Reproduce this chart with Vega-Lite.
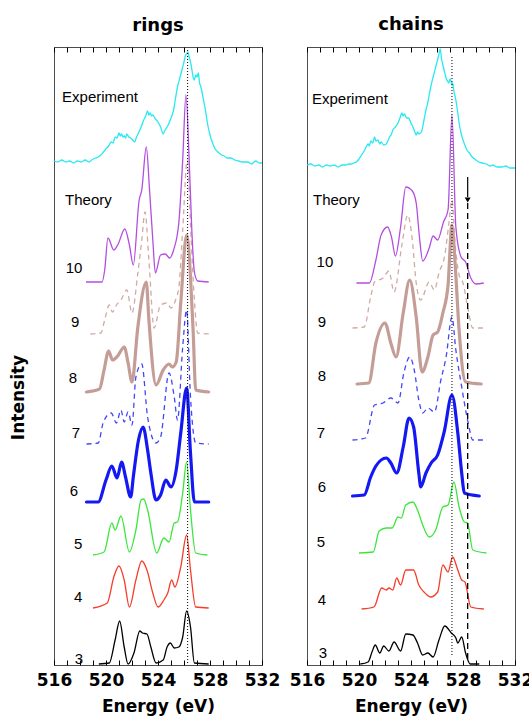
{
"$schema": "https://vega.github.io/schema/vega-lite/v6.json",
"padding": {"left": 8, "top": 15, "right": 5, "bottom": 2},
"spacing": 7,
"config": {
  "view": {"stroke": "#4d4d4d", "strokeWidth": 1},
  "font": "Liberation Sans",
  "title": {"font": "DejaVu Sans", "fontSize": 18, "fontWeight": "bold", "offset": 12, "color": "#000"},
  "axis": {"grid": false, "domain": false}
},
"datasets": {
"rings": [
{"s":"exp","e":516,"v":504},{"s":"exp","e":516.3,"v":503},{"s":"exp","e":516.6,"v":505},{"s":"exp","e":516.9,"v":503},{"s":"exp","e":517.2,"v":504},{"s":"exp","e":517.5,"v":502},{"s":"exp","e":517.8,"v":504},{"s":"exp","e":518.1,"v":503},{"s":"exp","e":518.4,"v":505},{"s":"exp","e":518.7,"v":503},{"s":"exp","e":518.9,"v":505},{"s":"exp","e":519.2,"v":507},{"s":"exp","e":519.4,"v":508},{"s":"exp","e":519.6,"v":510},{"s":"exp","e":519.8,"v":513},{"s":"exp","e":520.0,"v":516},{"s":"exp","e":520.2,"v":519},{"s":"exp","e":520.4,"v":523},{"s":"exp","e":520.55,"v":522},{"s":"exp","e":520.7,"v":528},{"s":"exp","e":520.85,"v":527},{"s":"exp","e":521.0,"v":532},{"s":"exp","e":521.1,"v":529},{"s":"exp","e":521.2,"v":531},{"s":"exp","e":521.3,"v":528},{"s":"exp","e":521.4,"v":529},{"s":"exp","e":521.5,"v":527},{"s":"exp","e":521.6,"v":531},{"s":"exp","e":521.75,"v":528},{"s":"exp","e":521.9,"v":527},{"s":"exp","e":522.05,"v":525},{"s":"exp","e":522.2,"v":523},{"s":"exp","e":522.35,"v":528},{"s":"exp","e":522.5,"v":532},{"s":"exp","e":522.7,"v":538},{"s":"exp","e":522.9,"v":545},{"s":"exp","e":523.05,"v":549},{"s":"exp","e":523.2,"v":554},{"s":"exp","e":523.3,"v":550},{"s":"exp","e":523.4,"v":552},{"s":"exp","e":523.5,"v":549},{"s":"exp","e":523.6,"v":550},{"s":"exp","e":523.8,"v":546},{"s":"exp","e":524.0,"v":543},{"s":"exp","e":524.2,"v":538},{"s":"exp","e":524.4,"v":531},{"s":"exp","e":524.5,"v":534},{"s":"exp","e":524.6,"v":536},{"s":"exp","e":524.7,"v":538},{"s":"exp","e":524.85,"v":542},{"s":"exp","e":525.0,"v":547},{"s":"exp","e":525.2,"v":555},{"s":"exp","e":525.35,"v":567},{"s":"exp","e":525.5,"v":578},{"s":"exp","e":525.7,"v":588},{"s":"exp","e":525.9,"v":598},{"s":"exp","e":526.0,"v":603},{"s":"exp","e":526.1,"v":609},{"s":"exp","e":526.2,"v":611},{"s":"exp","e":526.3,"v":613},{"s":"exp","e":526.4,"v":608},{"s":"exp","e":526.5,"v":603},{"s":"exp","e":526.6,"v":596},{"s":"exp","e":526.7,"v":588},{"s":"exp","e":526.8,"v":585},{"s":"exp","e":526.9,"v":590},{"s":"exp","e":527.0,"v":588},{"s":"exp","e":527.1,"v":592},{"s":"exp","e":527.2,"v":582},{"s":"exp","e":527.3,"v":578},{"s":"exp","e":527.4,"v":572},{"s":"exp","e":527.5,"v":565},{"s":"exp","e":527.65,"v":555},{"s":"exp","e":527.8,"v":542},{"s":"exp","e":528.0,"v":530},{"s":"exp","e":528.2,"v":522},{"s":"exp","e":528.4,"v":516},{"s":"exp","e":528.6,"v":513},{"s":"exp","e":528.7,"v":512},{"s":"exp","e":528.9,"v":510},{"s":"exp","e":529.1,"v":509},{"s":"exp","e":529.3,"v":507},{"s":"exp","e":529.6,"v":507},{"s":"exp","e":529.9,"v":505},{"s":"exp","e":530.2,"v":504},{"s":"exp","e":530.5,"v":503},{"s":"exp","e":530.9,"v":503},{"s":"exp","e":531.2,"v":501},{"s":"exp","e":531.5,"v":504},{"s":"exp","e":531.8,"v":502},{"s":"exp","e":532.0,"v":502},
{"s":"n10","e":518.46,"v":383},{"s":"n10","e":519.7,"v":383},{"s":"n10","e":519.9,"v":395},{"s":"n10","e":520.15,"v":427},{"s":"n10","e":520.6,"v":415},{"s":"n10","e":520.9,"v":420},{"s":"n10","e":521.45,"v":436},{"s":"n10","e":521.8,"v":420},{"s":"n10","e":522.1,"v":400},{"s":"n10","e":522.55,"v":465},{"s":"n10","e":522.75,"v":475},{"s":"n10","e":523.1,"v":518},{"s":"n10","e":523.35,"v":475},{"s":"n10","e":523.6,"v":425},{"s":"n10","e":523.8,"v":392},{"s":"n10","e":524.2,"v":410},{"s":"n10","e":524.55,"v":411},{"s":"n10","e":524.9,"v":407},{"s":"n10","e":525.2,"v":415},{"s":"n10","e":525.6,"v":442},{"s":"n10","e":525.9,"v":505},{"s":"n10","e":526.15,"v":570},{"s":"n10","e":526.4,"v":505},{"s":"n10","e":526.6,"v":435},{"s":"n10","e":526.8,"v":393},{"s":"n10","e":527.05,"v":384},{"s":"n10","e":527.9,"v":383},
{"s":"n9","e":518.8,"v":331},{"s":"n9","e":519.6,"v":332},{"s":"n9","e":519.9,"v":345},{"s":"n9","e":520.25,"v":360},{"s":"n9","e":520.5,"v":353},{"s":"n9","e":520.8,"v":360},{"s":"n9","e":521.15,"v":365},{"s":"n9","e":521.6,"v":375},{"s":"n9","e":522.0,"v":352},{"s":"n9","e":522.45,"v":392},{"s":"n9","e":522.75,"v":425},{"s":"n9","e":523.0,"v":453},{"s":"n9","e":523.3,"v":405},{"s":"n9","e":523.7,"v":337},{"s":"n9","e":524.2,"v":360},{"s":"n9","e":524.7,"v":362},{"s":"n9","e":525.0,"v":357},{"s":"n9","e":525.4,"v":367},{"s":"n9","e":525.6,"v":377},{"s":"n9","e":525.9,"v":435},{"s":"n9","e":526.25,"v":505},{"s":"n9","e":526.55,"v":425},{"s":"n9","e":526.8,"v":365},{"s":"n9","e":527.05,"v":332},{"s":"n9","e":528.1,"v":331},
{"s":"n8","e":518.5,"v":273},{"s":"n8","e":519.5,"v":276},{"s":"n8","e":519.85,"v":295},{"s":"n8","e":520.2,"v":314},{"s":"n8","e":520.5,"v":305},{"s":"n8","e":520.9,"v":309},{"s":"n8","e":521.4,"v":318},{"s":"n8","e":521.7,"v":302},{"s":"n8","e":522.0,"v":283},{"s":"n8","e":522.45,"v":338},{"s":"n8","e":523.1,"v":383},{"s":"n8","e":523.3,"v":345},{"s":"n8","e":523.85,"v":280},{"s":"n8","e":524.4,"v":295},{"s":"n8","e":524.85,"v":301},{"s":"n8","e":525.1,"v":298},{"s":"n8","e":525.4,"v":303},{"s":"n8","e":525.75,"v":362},{"s":"n8","e":526.2,"v":430},{"s":"n8","e":526.7,"v":335},{"s":"n8","e":526.9,"v":275},{"s":"n8","e":527.9,"v":273},
{"s":"n7","e":518.5,"v":221},{"s":"n7","e":519.4,"v":222},{"s":"n7","e":519.8,"v":243},{"s":"n7","e":520.4,"v":252},{"s":"n7","e":520.8,"v":242},{"s":"n7","e":521.15,"v":255},{"s":"n7","e":521.4,"v":243},{"s":"n7","e":521.7,"v":253},{"s":"n7","e":522.0,"v":240},{"s":"n7","e":522.3,"v":288},{"s":"n7","e":522.75,"v":301},{"s":"n7","e":523.2,"v":248},{"s":"n7","e":523.85,"v":222},{"s":"n7","e":524.2,"v":228},{"s":"n7","e":524.85,"v":292},{"s":"n7","e":525.25,"v":268},{"s":"n7","e":525.5,"v":245},{"s":"n7","e":525.9,"v":318},{"s":"n7","e":526.2,"v":355},{"s":"n7","e":526.5,"v":268},{"s":"n7","e":526.9,"v":222},{"s":"n7","e":527.9,"v":221},
{"s":"n6","e":518.5,"v":163},{"s":"n6","e":519.4,"v":163},{"s":"n6","e":520.0,"v":185},{"s":"n6","e":520.45,"v":199},{"s":"n6","e":520.85,"v":187},{"s":"n6","e":521.2,"v":203},{"s":"n6","e":521.5,"v":188},{"s":"n6","e":521.9,"v":168},{"s":"n6","e":522.1,"v":188},{"s":"n6","e":522.5,"v":225},{"s":"n6","e":522.85,"v":238},{"s":"n6","e":523.2,"v":215},{"s":"n6","e":523.45,"v":192},{"s":"n6","e":523.85,"v":165},{"s":"n6","e":524.2,"v":170},{"s":"n6","e":524.6,"v":185},{"s":"n6","e":525.0,"v":178},{"s":"n6","e":525.4,"v":195},{"s":"n6","e":525.75,"v":232},{"s":"n6","e":526.2,"v":277},{"s":"n6","e":526.5,"v":212},{"s":"n6","e":526.8,"v":163},{"s":"n6","e":527.9,"v":163},
{"s":"n5","e":519.0,"v":110},{"s":"n5","e":519.85,"v":113},{"s":"n5","e":520.45,"v":142},{"s":"n5","e":520.7,"v":135},{"s":"n5","e":521.15,"v":149},{"s":"n5","e":521.8,"v":113},{"s":"n5","e":522.3,"v":135},{"s":"n5","e":522.7,"v":165},{"s":"n5","e":522.9,"v":166},{"s":"n5","e":523.2,"v":155},{"s":"n5","e":523.9,"v":112},{"s":"n5","e":524.45,"v":127},{"s":"n5","e":524.85,"v":123},{"s":"n5","e":525.25,"v":142},{"s":"n5","e":525.5,"v":143},{"s":"n5","e":525.9,"v":172},{"s":"n5","e":526.2,"v":203},{"s":"n5","e":526.5,"v":155},{"s":"n5","e":526.9,"v":112},{"s":"n5","e":527.8,"v":110},
{"s":"n4","e":519.0,"v":57},{"s":"n4","e":520.1,"v":62},{"s":"n4","e":520.6,"v":88},{"s":"n4","e":521.0,"v":99},{"s":"n4","e":521.4,"v":85},{"s":"n4","e":521.8,"v":58},{"s":"n4","e":522.3,"v":85},{"s":"n4","e":522.75,"v":104},{"s":"n4","e":523.15,"v":95},{"s":"n4","e":523.6,"v":72},{"s":"n4","e":524.0,"v":58},{"s":"n4","e":524.45,"v":65},{"s":"n4","e":524.75,"v":72},{"s":"n4","e":525.05,"v":85},{"s":"n4","e":525.3,"v":78},{"s":"n4","e":525.75,"v":98},{"s":"n4","e":526.2,"v":130},{"s":"n4","e":526.5,"v":95},{"s":"n4","e":526.9,"v":58},{"s":"n4","e":527.9,"v":57},
{"s":"n3","e":519.45,"v":1},{"s":"n3","e":520.25,"v":2},{"s":"n3","e":520.7,"v":25},{"s":"n3","e":521.05,"v":44},{"s":"n3","e":521.4,"v":18},{"s":"n3","e":521.7,"v":1},{"s":"n3","e":522.15,"v":12},{"s":"n3","e":522.6,"v":34},{"s":"n3","e":522.8,"v":32},{"s":"n3","e":523.15,"v":31},{"s":"n3","e":523.45,"v":18},{"s":"n3","e":523.85,"v":2},{"s":"n3","e":524.4,"v":5},{"s":"n3","e":524.7,"v":18},{"s":"n3","e":524.95,"v":22},{"s":"n3","e":525.25,"v":17},{"s":"n3","e":525.6,"v":18},{"s":"n3","e":525.9,"v":28},{"s":"n3","e":526.2,"v":54},{"s":"n3","e":526.5,"v":38},{"s":"n3","e":526.8,"v":2},{"s":"n3","e":527.9,"v":1}
],
"chains": [
{"s":"exp","e":516.0,"v":500},{"s":"exp","e":516.3,"v":501},{"s":"exp","e":516.6,"v":499},{"s":"exp","e":516.9,"v":500},{"s":"exp","e":517.2,"v":498},{"s":"exp","e":517.5,"v":500},{"s":"exp","e":517.8,"v":499},{"s":"exp","e":518.1,"v":500},{"s":"exp","e":518.4,"v":498},{"s":"exp","e":518.7,"v":500},{"s":"exp","e":519.0,"v":500},{"s":"exp","e":519.2,"v":501},{"s":"exp","e":519.4,"v":501},{"s":"exp","e":519.6,"v":502},{"s":"exp","e":519.8,"v":503},{"s":"exp","e":520.0,"v":506},{"s":"exp","e":520.2,"v":510},{"s":"exp","e":520.4,"v":514},{"s":"exp","e":520.55,"v":518},{"s":"exp","e":520.7,"v":521},{"s":"exp","e":520.8,"v":519},{"s":"exp","e":520.9,"v":524},{"s":"exp","e":521.05,"v":522},{"s":"exp","e":521.2,"v":528},{"s":"exp","e":521.3,"v":524},{"s":"exp","e":521.45,"v":525},{"s":"exp","e":521.6,"v":521},{"s":"exp","e":521.7,"v":523},{"s":"exp","e":521.9,"v":520},{"s":"exp","e":522.1,"v":521},{"s":"exp","e":522.25,"v":525},{"s":"exp","e":522.35,"v":528},{"s":"exp","e":522.5,"v":531},{"s":"exp","e":522.6,"v":535},{"s":"exp","e":522.8,"v":538},{"s":"exp","e":523.0,"v":542},{"s":"exp","e":523.15,"v":547},{"s":"exp","e":523.3,"v":552},{"s":"exp","e":523.4,"v":549},{"s":"exp","e":523.5,"v":551},{"s":"exp","e":523.65,"v":547},{"s":"exp","e":523.8,"v":547},{"s":"exp","e":524.0,"v":542},{"s":"exp","e":524.15,"v":538},{"s":"exp","e":524.3,"v":533},{"s":"exp","e":524.4,"v":530},{"s":"exp","e":524.5,"v":533},{"s":"exp","e":524.6,"v":531},{"s":"exp","e":524.8,"v":533},{"s":"exp","e":525.0,"v":545},{"s":"exp","e":525.15,"v":555},{"s":"exp","e":525.3,"v":563},{"s":"exp","e":525.4,"v":570},{"s":"exp","e":525.55,"v":580},{"s":"exp","e":525.7,"v":588},{"s":"exp","e":525.9,"v":598},{"s":"exp","e":526.1,"v":608},{"s":"exp","e":526.2,"v":614},{"s":"exp","e":526.25,"v":616},{"s":"exp","e":526.35,"v":606},{"s":"exp","e":526.45,"v":600},{"s":"exp","e":526.6,"v":592},{"s":"exp","e":526.7,"v":587},{"s":"exp","e":526.8,"v":584},{"s":"exp","e":526.9,"v":582},{"s":"exp","e":527.0,"v":586},{"s":"exp","e":527.05,"v":585},{"s":"exp","e":527.15,"v":580},{"s":"exp","e":527.2,"v":582},{"s":"exp","e":527.3,"v":574},{"s":"exp","e":527.45,"v":565},{"s":"exp","e":527.6,"v":552},{"s":"exp","e":527.7,"v":542},{"s":"exp","e":527.85,"v":532},{"s":"exp","e":528.0,"v":525},{"s":"exp","e":528.2,"v":518},{"s":"exp","e":528.3,"v":515},{"s":"exp","e":528.5,"v":512},{"s":"exp","e":528.7,"v":508},{"s":"exp","e":528.9,"v":506},{"s":"exp","e":529.2,"v":503},{"s":"exp","e":529.5,"v":502},{"s":"exp","e":529.8,"v":501},{"s":"exp","e":530.1,"v":499},{"s":"exp","e":530.3,"v":500},{"s":"exp","e":530.6,"v":498},{"s":"exp","e":531.0,"v":498},{"s":"exp","e":531.3,"v":499},{"s":"exp","e":531.6,"v":497},{"s":"exp","e":532.0,"v":497},
{"s":"n10","e":519.8,"v":382},{"s":"n10","e":520.8,"v":382},{"s":"n10","e":521.3,"v":405},{"s":"n10","e":521.7,"v":430},{"s":"n10","e":522.2,"v":438},{"s":"n10","e":522.5,"v":428},{"s":"n10","e":522.8,"v":409},{"s":"n10","e":523.2,"v":438},{"s":"n10","e":523.6,"v":478},{"s":"n10","e":524.1,"v":474},{"s":"n10","e":524.4,"v":462},{"s":"n10","e":524.65,"v":428},{"s":"n10","e":524.9,"v":404},{"s":"n10","e":525.4,"v":417},{"s":"n10","e":525.7,"v":429},{"s":"n10","e":526.05,"v":425},{"s":"n10","e":526.5,"v":443},{"s":"n10","e":526.85,"v":455},{"s":"n10","e":527.15,"v":550},{"s":"n10","e":527.45,"v":438},{"s":"n10","e":527.85,"v":408},{"s":"n10","e":528.2,"v":403},{"s":"n10","e":528.6,"v":387},{"s":"n10","e":529.0,"v":381},{"s":"n10","e":529.6,"v":382},
{"s":"n9","e":519.5,"v":337},{"s":"n9","e":520.4,"v":338},{"s":"n9","e":520.9,"v":368},{"s":"n9","e":521.2,"v":383},{"s":"n9","e":521.85,"v":387},{"s":"n9","e":522.3,"v":394},{"s":"n9","e":522.7,"v":373},{"s":"n9","e":523.3,"v":420},{"s":"n9","e":523.75,"v":450},{"s":"n9","e":524.1,"v":425},{"s":"n9","e":524.4,"v":382},{"s":"n9","e":524.75,"v":365},{"s":"n9","e":525.4,"v":383},{"s":"n9","e":525.8,"v":375},{"s":"n9","e":526.15,"v":392},{"s":"n9","e":526.6,"v":410},{"s":"n9","e":526.9,"v":440},{"s":"n9","e":527.15,"v":465},{"s":"n9","e":527.4,"v":420},{"s":"n9","e":527.7,"v":390},{"s":"n9","e":528.0,"v":382},{"s":"n9","e":528.4,"v":355},{"s":"n9","e":528.75,"v":337},{"s":"n9","e":529.6,"v":337},
{"s":"n8","e":519.85,"v":281},{"s":"n8","e":520.75,"v":282},{"s":"n8","e":521.3,"v":322},{"s":"n8","e":522.0,"v":342},{"s":"n8","e":522.45,"v":322},{"s":"n8","e":522.85,"v":308},{"s":"n8","e":523.4,"v":352},{"s":"n8","e":523.9,"v":385},{"s":"n8","e":524.4,"v":348},{"s":"n8","e":524.85,"v":293},{"s":"n8","e":525.3,"v":308},{"s":"n8","e":525.7,"v":330},{"s":"n8","e":526.05,"v":333},{"s":"n8","e":526.45,"v":352},{"s":"n8","e":526.85,"v":380},{"s":"n8","e":527.15,"v":440},{"s":"n8","e":527.4,"v":400},{"s":"n8","e":527.7,"v":335},{"s":"n8","e":528.2,"v":283},{"s":"n8","e":529.4,"v":281},
{"s":"n7","e":519.5,"v":225},{"s":"n7","e":520.5,"v":227},{"s":"n7","e":521.2,"v":260},{"s":"n7","e":521.85,"v":262},{"s":"n7","e":522.45,"v":267},{"s":"n7","e":523.0,"v":262},{"s":"n7","e":523.45,"v":292},{"s":"n7","e":523.9,"v":308},{"s":"n7","e":524.25,"v":295},{"s":"n7","e":524.6,"v":265},{"s":"n7","e":524.9,"v":252},{"s":"n7","e":525.3,"v":257},{"s":"n7","e":525.8,"v":253},{"s":"n7","e":526.3,"v":285},{"s":"n7","e":526.7,"v":308},{"s":"n7","e":527.15,"v":348},{"s":"n7","e":527.45,"v":315},{"s":"n7","e":527.85,"v":282},{"s":"n7","e":528.4,"v":242},{"s":"n7","e":528.75,"v":225},{"s":"n7","e":529.6,"v":225},
{"s":"n6","e":519.5,"v":169},{"s":"n6","e":520.4,"v":170},{"s":"n6","e":520.9,"v":188},{"s":"n6","e":521.3,"v":199},{"s":"n6","e":522.1,"v":207},{"s":"n6","e":522.45,"v":202},{"s":"n6","e":522.9,"v":192},{"s":"n6","e":523.4,"v":218},{"s":"n6","e":523.85,"v":247},{"s":"n6","e":524.2,"v":238},{"s":"n6","e":524.6,"v":192},{"s":"n6","e":524.75,"v":178},{"s":"n6","e":525.15,"v":192},{"s":"n6","e":525.55,"v":202},{"s":"n6","e":526.05,"v":210},{"s":"n6","e":526.55,"v":233},{"s":"n6","e":527.15,"v":270},{"s":"n6","e":527.6,"v":232},{"s":"n6","e":527.9,"v":192},{"s":"n6","e":528.1,"v":172},{"s":"n6","e":529.25,"v":169},
{"s":"n5","e":520.0,"v":112},{"s":"n5","e":521.1,"v":113},{"s":"n5","e":521.55,"v":134},{"s":"n5","e":522.1,"v":137},{"s":"n5","e":522.55,"v":137},{"s":"n5","e":523.0,"v":148},{"s":"n5","e":523.25,"v":147},{"s":"n5","e":523.6,"v":160},{"s":"n5","e":524.15,"v":163},{"s":"n5","e":524.5,"v":155},{"s":"n5","e":524.9,"v":140},{"s":"n5","e":525.4,"v":128},{"s":"n5","e":525.9,"v":135},{"s":"n5","e":526.45,"v":158},{"s":"n5","e":526.85,"v":160},{"s":"n5","e":527.3,"v":183},{"s":"n5","e":527.7,"v":158},{"s":"n5","e":528.1,"v":143},{"s":"n5","e":528.35,"v":142},{"s":"n5","e":528.75,"v":115},{"s":"n5","e":529.8,"v":112},
{"s":"n4","e":520.2,"v":56},{"s":"n4","e":521.15,"v":58},{"s":"n4","e":521.75,"v":77},{"s":"n4","e":522.1,"v":75},{"s":"n4","e":522.3,"v":77},{"s":"n4","e":522.6,"v":75},{"s":"n4","e":522.9,"v":87},{"s":"n4","e":523.2,"v":80},{"s":"n4","e":523.6,"v":95},{"s":"n4","e":524.2,"v":95},{"s":"n4","e":524.6,"v":80},{"s":"n4","e":525.0,"v":73},{"s":"n4","e":525.5,"v":68},{"s":"n4","e":526.05,"v":73},{"s":"n4","e":526.45,"v":100},{"s":"n4","e":526.85,"v":93},{"s":"n4","e":527.2,"v":108},{"s":"n4","e":527.6,"v":95},{"s":"n4","e":527.9,"v":85},{"s":"n4","e":528.15,"v":83},{"s":"n4","e":528.6,"v":58},{"s":"n4","e":529.6,"v":56},
{"s":"n3","e":520.1,"v":1},{"s":"n3","e":520.7,"v":3},{"s":"n3","e":521.0,"v":13},{"s":"n3","e":521.25,"v":20},{"s":"n3","e":521.6,"v":12},{"s":"n3","e":521.9,"v":19},{"s":"n3","e":522.3,"v":14},{"s":"n3","e":522.7,"v":23},{"s":"n3","e":523.2,"v":14},{"s":"n3","e":523.6,"v":31},{"s":"n3","e":524.15,"v":30},{"s":"n3","e":524.5,"v":22},{"s":"n3","e":524.9,"v":10},{"s":"n3","e":525.3,"v":12},{"s":"n3","e":525.7,"v":8},{"s":"n3","e":526.15,"v":25},{"s":"n3","e":526.6,"v":39},{"s":"n3","e":527.1,"v":32},{"s":"n3","e":527.45,"v":27},{"s":"n3","e":527.6,"v":22},{"s":"n3","e":527.9,"v":28},{"s":"n3","e":528.2,"v":12},{"s":"n3","e":528.55,"v":1},{"s":"n3","e":529.25,"v":1}
]
},
"hconcat": [
{
  "title": "rings",
  "width": 208, "height": 618,
  "data": {"name": "rings"},
  "encoding": {
    "x": {"field": "e", "type": "quantitative", "scale": {"domain": [516, 532], "nice": false, "zero": false}, "axis": null},
    "y": {"field": "v", "type": "quantitative", "scale": {"domain": [0, 618], "nice": false, "zero": false},
          "axis": {"title": "Intensity", "labels": false, "ticks": false, "domain": false, "titleFont": "DejaVu Sans", "titleFontSize": 17, "titleFontWeight": "bold", "titleColor": "#000", "titleX": -31, "titleY": 350, "titleBaseline": "alphabetic"}}
  },
  "layer": [
    {"transform": [{"filter": {"field": "s", "oneOf": ["n9", "n7"]}}],
     "mark": {"type": "line", "strokeWidth": 1.3, "strokeDash": [5, 4], "interpolate": "monotone"},
     "encoding": {
       "x": {"field": "e", "type": "quantitative", "axis": {"orient": "bottom", "values": [516,517,518,519,520,521,522,523,524,525,526,527,528,529,530,531,532], "labelExpr": "datum.value % 4 == 0 ? datum.label : ''", "format": "d", "tickSize": -5, "tickColor": "#000", "labelFont": "DejaVu Sans", "labelFontSize": 17, "labelFontWeight": "bold", "labelColor": "#000", "labelPadding": 12, "labelFlush": false, "labelOverlap": false, "title": "Energy (eV)", "titleFont": "DejaVu Sans", "titleFontSize": 17, "titleFontWeight": "bold", "titleColor": "#000", "titlePadding": 10}},
       "color": {"field": "s", "type": "nominal", "legend": null, "scale": {"domain": ["exp","n10","n9","n8","n7","n6","n5","n4","n3"], "range": ["#2ae8f0","#b34fe0","#d2aaa4","#c59d97","#4348f5","#1418f2","#3be63b","#f53d2a","#000000"]}}}},
    {"transform": [{"filter": {"field": "s", "oneOf": ["n8", "n6"]}}],
     "mark": {"type": "line", "strokeWidth": 3.2, "interpolate": "monotone", "strokeCap": "round", "strokeJoin": "round"},
     "encoding": {"color": {"field": "s", "type": "nominal", "legend": null, "scale": {"domain": ["exp","n10","n9","n8","n7","n6","n5","n4","n3"], "range": ["#2ae8f0","#b34fe0","#d2aaa4","#c59d97","#4348f5","#1418f2","#3be63b","#f53d2a","#000000"]}}}},
    {"transform": [{"filter": {"field": "s", "oneOf": ["exp", "n10", "n5", "n4", "n3"]}}],
     "mark": {"type": "line", "strokeWidth": 1.3, "interpolate": "monotone"},
     "encoding": {"color": {"field": "s", "type": "nominal", "legend": null, "scale": {"domain": ["exp","n10","n9","n8","n7","n6","n5","n4","n3"], "range": ["#2ae8f0","#b34fe0","#d2aaa4","#c59d97","#4348f5","#1418f2","#3be63b","#f53d2a","#000000"]}}}},
    {"data": {"values": [{"e": 526.28, "v": 615, "v2": 0}]},
     "mark": {"type": "rule", "strokeDash": [1, 2], "strokeWidth": 1, "color": "#000"},
     "encoding": {
       "x": {"field": "e", "type": "quantitative", "axis": {"orient": "top", "values": [516,517,518,519,520,521,522,523,524,525,526,527,528,529,530,531,532], "labels": false, "tickSize": -5, "tickColor": "#000", "title": null}},
       "y2": {"field": "v2"}}},
    {"data": {"values": [{"e": 516.62, "v": 568, "t": "Experiment"}, {"e": 516.85, "v": 465, "t": "Theory"}]},
     "mark": {"type": "text", "align": "left", "baseline": "middle", "font": "Liberation Sans", "fontSize": 15, "color": "#000"},
     "encoding": {"text": {"field": "t"}}},
    {"data": {"values": [{"e": 517.54, "v": 397, "t": "10"}, {"e": 517.62, "v": 343, "t": "9"}, {"e": 517.46, "v": 287, "t": "8"}, {"e": 517.69, "v": 232, "t": "7"}, {"e": 517.54, "v": 174, "t": "6"}, {"e": 517.85, "v": 121, "t": "5"}, {"e": 517.85, "v": 68, "t": "4"}, {"e": 517.92, "v": 6, "t": "3"}]},
     "mark": {"type": "text", "align": "center", "baseline": "middle", "font": "Liberation Sans", "fontSize": 15, "color": "#000"},
     "encoding": {"text": {"field": "t"}}}
  ]
},
{
  "title": "chains",
  "width": 208, "height": 618,
  "data": {"name": "chains"},
  "encoding": {
    "x": {"field": "e", "type": "quantitative", "scale": {"domain": [516, 532], "nice": false, "zero": false}, "axis": null},
    "y": {"field": "v", "type": "quantitative", "scale": {"domain": [0, 618], "nice": false, "zero": false}, "axis": null}
  },
  "layer": [
    {"transform": [{"filter": {"field": "s", "oneOf": ["n9", "n7"]}}],
     "mark": {"type": "line", "strokeWidth": 1.3, "strokeDash": [5, 4], "interpolate": "monotone"},
     "encoding": {
       "x": {"field": "e", "type": "quantitative", "axis": {"orient": "bottom", "values": [516,517,518,519,520,521,522,523,524,525,526,527,528,529,530,531,532], "labelExpr": "datum.value % 4 == 0 ? datum.label : ''", "format": "d", "tickSize": -5, "tickColor": "#000", "labelFont": "DejaVu Sans", "labelFontSize": 17, "labelFontWeight": "bold", "labelColor": "#000", "labelPadding": 12, "labelFlush": false, "labelOverlap": false, "title": "Energy (eV)", "titleFont": "DejaVu Sans", "titleFontSize": 17, "titleFontWeight": "bold", "titleColor": "#000", "titlePadding": 10}},
       "color": {"field": "s", "type": "nominal", "legend": null, "scale": {"domain": ["exp","n10","n9","n8","n7","n6","n5","n4","n3"], "range": ["#2ae8f0","#b34fe0","#d2aaa4","#c59d97","#4348f5","#1418f2","#3be63b","#f53d2a","#000000"]}}}},
    {"transform": [{"filter": {"field": "s", "oneOf": ["n8", "n6"]}}],
     "mark": {"type": "line", "strokeWidth": 3.2, "interpolate": "monotone", "strokeCap": "round", "strokeJoin": "round"},
     "encoding": {"color": {"field": "s", "type": "nominal", "legend": null, "scale": {"domain": ["exp","n10","n9","n8","n7","n6","n5","n4","n3"], "range": ["#2ae8f0","#b34fe0","#d2aaa4","#c59d97","#4348f5","#1418f2","#3be63b","#f53d2a","#000000"]}}}},
    {"transform": [{"filter": {"field": "s", "oneOf": ["exp", "n10", "n5", "n4", "n3"]}}],
     "mark": {"type": "line", "strokeWidth": 1.3, "interpolate": "monotone"},
     "encoding": {"color": {"field": "s", "type": "nominal", "legend": null, "scale": {"domain": ["exp","n10","n9","n8","n7","n6","n5","n4","n3"], "range": ["#2ae8f0","#b34fe0","#d2aaa4","#c59d97","#4348f5","#1418f2","#3be63b","#f53d2a","#000000"]}}}},
    {"data": {"values": [{"e": 527.15, "v": 608, "v2": 8}]},
     "mark": {"type": "rule", "strokeDash": [1, 2], "strokeWidth": 1, "color": "#000"},
     "encoding": {
       "x": {"field": "e", "type": "quantitative", "axis": {"orient": "top", "values": [516,517,518,519,520,521,522,523,524,525,526,527,528,529,530,531,532], "labels": false, "tickSize": -5, "tickColor": "#000", "title": null}},
       "y2": {"field": "v2"}}},
    {"data": {"values": [{"e": 528.36, "v": 462, "v2": 5}]},
     "mark": {"type": "rule", "strokeDash": [6, 4], "strokeWidth": 1.3, "color": "#000"},
     "encoding": {"y2": {"field": "v2"}}},
    {"data": {"values": [{"e": 528.36, "v": 488, "v2": 468}]},
     "mark": {"type": "rule", "strokeWidth": 1.2, "color": "#000"},
     "encoding": {"y2": {"field": "v2"}}},
    {"data": {"values": [{"e": 528.36, "v": 465}]},
     "mark": {"type": "point", "shape": "triangle-down", "filled": true, "size": 35, "color": "#000", "opacity": 1},
     "encoding": {}},
    {"data": {"values": [{"e": 516.38, "v": 566, "t": "Experiment"}, {"e": 516.46, "v": 465, "t": "Theory"}]},
     "mark": {"type": "text", "align": "left", "baseline": "middle", "font": "Liberation Sans", "fontSize": 15, "color": "#000"},
     "encoding": {"text": {"field": "t"}}},
    {"data": {"values": [{"e": 517.38, "v": 403, "t": "10"}, {"e": 517.15, "v": 343, "t": "9"}, {"e": 517.15, "v": 289, "t": "8"}, {"e": 517.08, "v": 232, "t": "7"}, {"e": 517.15, "v": 178, "t": "6"}, {"e": 517.08, "v": 123, "t": "5"}, {"e": 517.15, "v": 65, "t": "4"}, {"e": 517.23, "v": 12, "t": "3"}]},
     "mark": {"type": "text", "align": "center", "baseline": "middle", "font": "Liberation Sans", "fontSize": 15, "color": "#000"},
     "encoding": {"text": {"field": "t"}}}
  ]
}
]
}
